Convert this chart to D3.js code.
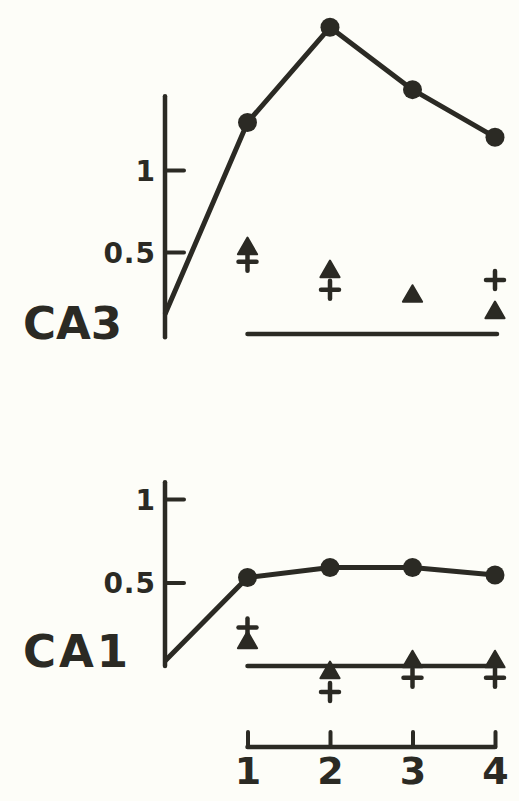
<!DOCTYPE html>
<html>
<head>
<meta charset="utf-8">
<script src="https://cdn.jsdelivr.net/npm/d3@7"></script>
<style>
  html, body { margin: 0; padding: 0; background: #fdfdf8; }
  svg { display: block; }
  text { font-family: "DejaVu Sans", sans-serif; font-weight: 700; fill: #2b2a24; }
</style>
</head>
<body>
<svg id="chart" width="519" height="801"></svg>
<script>
// Time points (x) shared by both regions
const times = [0, 1, 2, 3, 4];
const timeTicks = [1, 2, 3, 4];
const markerTimes = [1, 2, 3, 4];

// CA3 region
const ca3Circles = [0.12, 1.29, 1.87, 1.49, 1.20];
const ca3Triangles = [0.52, 0.38, 0.23, 0.13];
const ca3Crosses = [0.44, 0.27, null, 0.33];
const ca3Ticks = [0.5, 1];
const ca3TickLabels = ["0.5", "1"];
const ca3AxisExtent = [-0.02, 1.45];

// CA1 region
const ca1Circles = [0.03, 0.53, 0.59, 0.59, 0.545];
const ca1Triangles = [0.14, -0.04, 0.025, 0.025];
const ca1Crosses = [0.23, -0.155, -0.07, -0.07];
const ca1Ticks = [0.5, 1];
const ca1TickLabels = ["0.5", "1"];
const ca1AxisExtent = [0.0, 1.1];

const ink = "#2b2a24";
const font = "'DejaVu Sans', sans-serif";
const svg = d3.select("#chart");

const x = d3.scaleLinear().domain([0, 4]).range([165, 495]);

const panels = [
  { name: "CA3", circles: ca3Circles, tri: ca3Triangles, cross: ca3Crosses,
    ticks: ca3Ticks, labels: ca3TickLabels, extent: ca3AxisExtent,
    y: d3.scaleLinear().domain([0, 1]).range([334, 170]), nameY: 323, nameSpacing: 0 },
  { name: "CA1", circles: ca1Circles, tri: ca1Triangles, cross: ca1Crosses,
    ticks: ca1Ticks, labels: ca1TickLabels, extent: ca1AxisExtent,
    y: d3.scaleLinear().domain([0, 1]).range([666, 499]), nameY: 651, nameSpacing: 3 }
];

const triPath = d3.symbol().type(d3.symbolTriangle).size(160)();

panels.forEach(p => {
  const g = svg.append("g");
  const y = p.y;

  // vertical axis line
  g.append("line")
    .attr("x1", x(0)).attr("x2", x(0))
    .attr("y1", y(p.extent[0])).attr("y2", y(p.extent[1]))
    .attr("stroke", ink).attr("stroke-width", 4.5).attr("stroke-linecap", "round");

  // ticks pointing inward, labels on the left
  const axis = d3.axisLeft(y)
    .tickValues(p.ticks)
    .tickFormat((d, i) => p.labels[i])
    .tickSizeInner(-19).tickSizeOuter(0).tickPadding(9);
  const ag = g.append("g").attr("transform", `translate(${x(0)},0)`).call(axis);
  ag.select(".domain").remove();
  ag.selectAll(".tick line").attr("stroke", ink).attr("stroke-width", 4).attr("stroke-linecap", "round");
  ag.selectAll(".tick text")
    .attr("font-size", 28).attr("font-family", font).attr("font-weight", 700)
    .attr("letter-spacing", 1)
    .attr("fill", ink).attr("dy", "0.36em");

  // zero baseline
  g.append("line")
    .attr("x1", x(1)).attr("x2", x(4) + 2)
    .attr("y1", y(0)).attr("y2", y(0))
    .attr("stroke", ink).attr("stroke-width", 4.5).attr("stroke-linecap", "round");

  // region label
  g.append("text")
    .attr("x", 23).attr("y", p.nameY)
    .attr("dy", "0.36em")
    .attr("font-size", 45)
    .attr("letter-spacing", p.nameSpacing)
    .text(p.name);

  // circle series line
  const line = d3.line().x((d, i) => x(times[i])).y(d => y(d));
  g.append("path")
    .datum(p.circles)
    .attr("d", line)
    .attr("fill", "none").attr("stroke", ink).attr("stroke-width", 5)
    .attr("stroke-linejoin", "round");

  g.selectAll("circle.pt")
    .data(p.circles.slice(1))
    .join("circle")
    .attr("class", "pt")
    .attr("cx", (d, i) => x(markerTimes[i]))
    .attr("cy", d => y(d))
    .attr("r", 9.5)
    .attr("fill", ink);

  // crosses
  const crossData = p.cross.map((v, i) => ({ t: markerTimes[i], v })).filter(d => d.v !== null);
  const cg = g.selectAll("g.cross").data(crossData).join("g")
    .attr("class", "cross")
    .attr("transform", d => `translate(${x(d.t)},${y(d.v)})`);
  cg.append("line").attr("x1", -9).attr("x2", 9).attr("y1", 0).attr("y2", 0)
    .attr("stroke", ink).attr("stroke-width", 4.5).attr("stroke-linecap", "round");
  cg.append("line").attr("x1", 0).attr("x2", 0).attr("y1", -9).attr("y2", 9)
    .attr("stroke", ink).attr("stroke-width", 4.5).attr("stroke-linecap", "round");

  // triangles
  g.selectAll("path.tri")
    .data(p.tri.map((v, i) => ({ t: markerTimes[i], v })))
    .join("path")
    .attr("class", "tri")
    .attr("d", triPath)
    .attr("transform", d => `translate(${x(d.t)},${y(d.v)})`)
    .attr("fill", ink)
    .attr("stroke", ink).attr("stroke-width", 2).attr("stroke-linejoin", "round");
});

// shared time axis at the bottom
const xAxisY = 747;
const xa = d3.axisBottom(x)
  .tickValues(timeTicks)
  .tickFormat(d3.format("d"))
  .tickSizeInner(-15).tickSizeOuter(0).tickPadding(10);
const xg = svg.append("g").attr("transform", `translate(0,${xAxisY})`).call(xa);
xg.select(".domain").remove();
xg.append("line")
  .attr("x1", x(timeTicks[0])).attr("x2", x(timeTicks[timeTicks.length - 1]))
  .attr("stroke", ink).attr("stroke-width", 4.5).attr("stroke-linecap", "round");
xg.selectAll(".tick line").attr("stroke", ink).attr("stroke-width", 4).attr("stroke-linecap", "round");
xg.selectAll(".tick text")
  .attr("font-size", 38).attr("font-family", font).attr("font-weight", 700)
  .attr("fill", ink);
</script>
</body>
</html>
